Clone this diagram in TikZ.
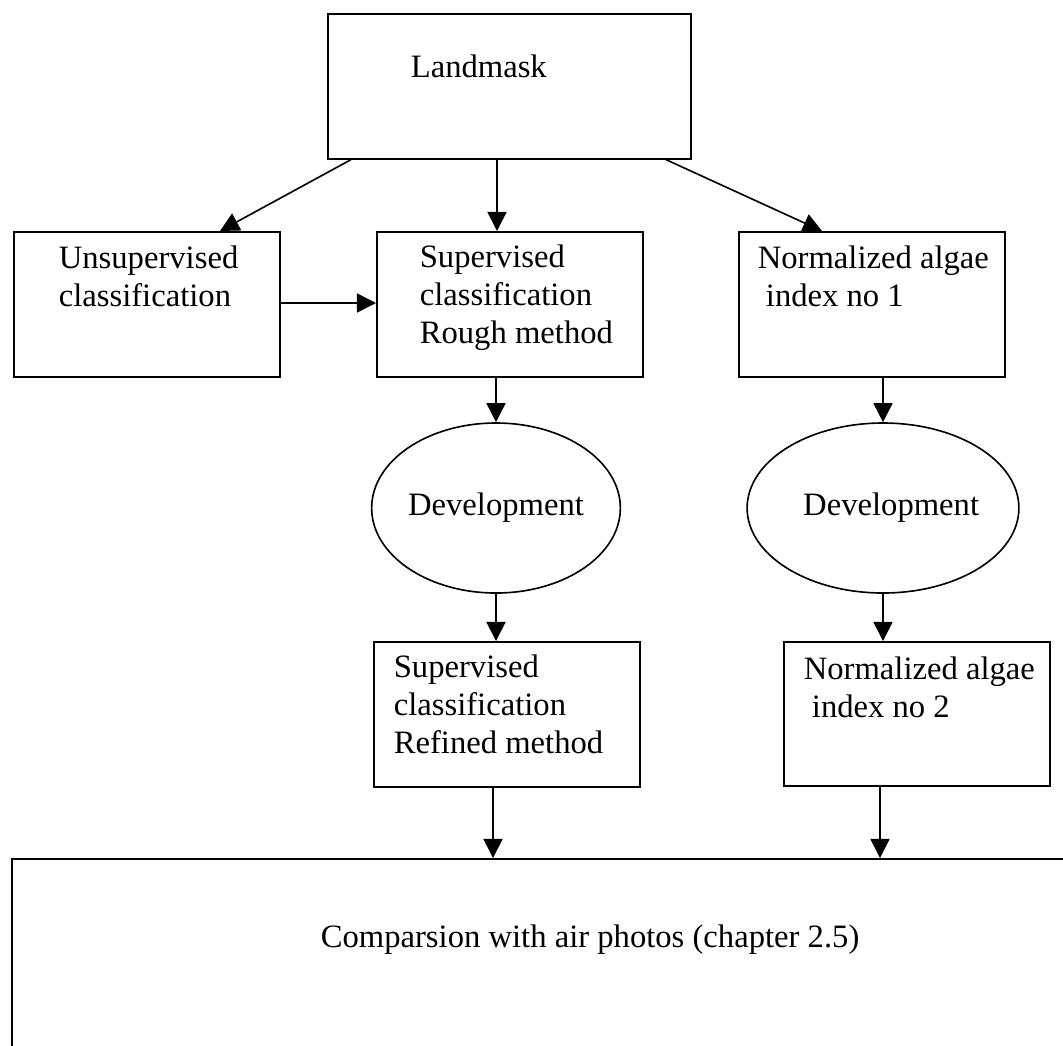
\documentclass[tikz,border=0pt]{standalone}
\usepackage{fontspec}
\setmainfont{Liberation Serif}
\usetikzlibrary{arrows.meta,shapes.geometric}

\newlength\px
\setlength\px{0.3676pt}

\begin{document}
\begin{tikzpicture}[x=\px, y=-\px, >={Triangle[width=7pt,length=7pt]}, line width=0.6pt,
  box/.style={draw, rectangle, anchor=north west, inner sep=0pt},
  oval/.style={draw, ellipse, inner sep=0pt, minimum width=240\px, minimum height=170\px,
    font=\fontsize{12}{13.8}\selectfont},
  txt/.style={anchor=base west, inner sep=0pt, align=left, font=\fontsize{12}{13.8}\selectfont}]

% 画布大小
\clip (0,0) rectangle (1063,1045);

% 方框
\node[box, minimum width=363\px, minimum height=145\px] (land) at (327,13) {};
\node[box, minimum width=266\px, minimum height=145\px] (unsup) at (13,231) {};
\node[box, minimum width=266\px, minimum height=145\px] (rough) at (376,231) {};
\node[box, minimum width=266\px, minimum height=145\px] (normA) at (738,231) {};
\node[box, minimum width=266\px, minimum height=145\px] (refined) at (373,641) {};
\node[box, minimum width=266\px, minimum height=144\px] (normB) at (783,641) {};
\node[box, minimum width=1100\px, minimum height=300\px] (comp) at (11,858) {};

% 椭圆
\node[oval] (devA) at (496,508) {Development};
\node[oval, minimum width=242\px] (devB) at (883,508) {\hspace*{6pt}Development};

% 文字 (基线取最后一行)
\node[txt] (landtxt) at (410,77) {Landmask};
\node[txt] (unsuptxt) at (58,306) {Unsupervised\\classification};
\node[txt] (roughtxt) at (419,343) {Supervised\\classification\\Rough method};
\node[txt] (normAtxt) at (757,306) {Normalized algae\\\hspace*{3pt}index no 1};
\node[txt] (refinedtxt) at (393,753) {Supervised\\classification\\Refined method};
\node[txt] (normBtxt) at (803,717) {Normalized algae\\\hspace*{3pt}index no 2};
\node[txt] (comptxt) at (320,947) {Comparsion with air photos (chapter 2.5)};

% 箭头
\draw[->] (land.south -| 351,0) -- (unsup.north -| 220,0);
\draw[->] (land.south -| 497,0) -- (rough.north -| 497,0);
\draw[->] (land.south -| 666,0) -- (normA.north -| 822,0);
\draw[->] (unsup.east |- 0,303) -- (rough.west |- 0,303);
\draw[->] (rough.south -| devA.north) -- (devA.north);
\draw[->] (normA.south -| devB.north) -- (devB.north);
\draw[->] (devA.south) -- (refined.north -| devA.south);
\draw[->] (devB.south) -- (normB.north -| devB.south);
\draw[->] (refined.south -| 493,0) -- (comp.north -| 493,0);
\draw[->] (normB.south -| 880,0) -- (comp.north -| 880,0);

\end{tikzpicture}
\end{document}
